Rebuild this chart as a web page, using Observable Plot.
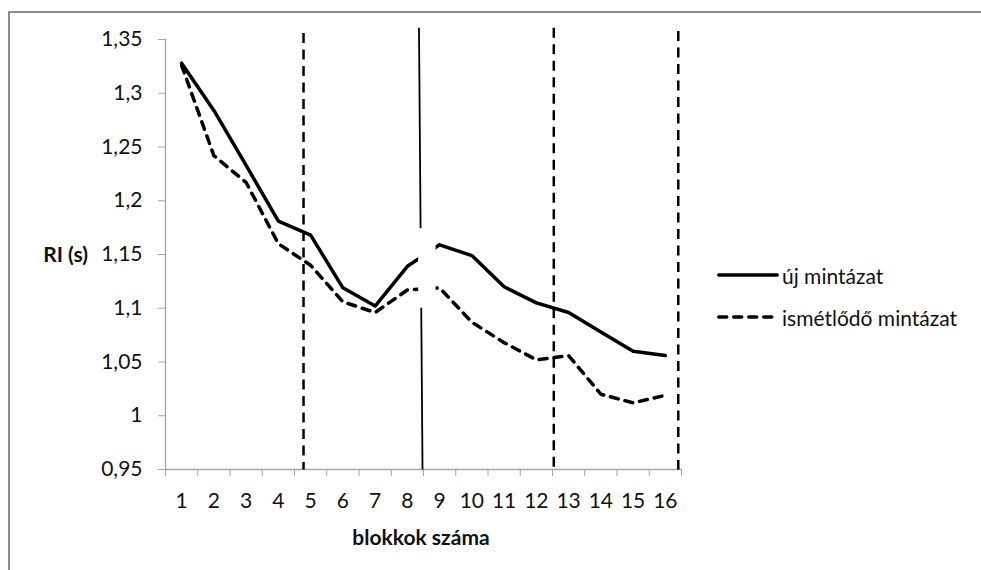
<!DOCTYPE html>
<html><head><meta charset="utf-8">
<script src="https://cdn.jsdelivr.net/npm/d3@7"></script>
<script src="https://cdn.jsdelivr.net/npm/@observablehq/plot@0.6"></script>
<style>
html,body{margin:0;padding:0;background:#fff;overflow:hidden;}
#wrap{position:relative;width:981px;height:570px;overflow:hidden;font-family:Lato,"Open Sans",sans-serif;color:#111;}
#frame{position:absolute;left:8px;top:11px;width:2000px;height:2000px;border-left:2px solid #8c8c8c;border-top:2px solid #8c8c8c;}
#chart{position:absolute;left:0;top:0;}
.ttl{position:absolute;font-weight:bold;font-size:21px;line-height:24px;white-space:nowrap;}
#ylab{right:893px;top:242px;}
#xlab{left:0;width:842px;text-align:center;top:525px;}
.leg{position:absolute;left:717px;height:24px;display:flex;align-items:center;font-size:21px;white-space:nowrap;}
.leg svg{margin-right:3px;}
</style></head><body>
<div id="wrap"><div id="frame"></div><div id="chart"></div>
<div class="ttl" id="ylab">RI (s)</div>
<div class="ttl" id="xlab">blokkok száma</div>
<div id="legend"></div>
</div>
<script>
// ---- data ----
const blocks = [1,2,3,4,5,6,7,8,9,10,11,12,13,14,15,16];
const ujMintazat = [1.328,1.284,1.233,1.181,1.168,1.119,1.102,1.139,1.159,1.149,1.120,1.105,1.096,1.078,1.060,1.056];
const ismetlodoMintazat = [1.326,1.242,1.217,1.160,1.140,1.106,1.096,1.117,1.119,1.087,1.068,1.052,1.056,1.020,1.012,1.019];
const seriesNames = ["új mintázat","ismétlődő mintázat"];
const yTicks = [0.95,1,1.05,1.1,1.15,1.2,1.25,1.3,1.35];
const xTickBounds = [0.5,1.5,2.5,3.5,4.5,5.5,6.5,7.5,8.5,9.5,10.5,11.5,12.5,13.5,14.5,15.5,16.5];
// phase boundary lines (in block units)
const phaseTopX = [4.78, 8.36, 12.54, 16.40];
const phaseBottomX = [4.78, 8.47, 12.54, 16.40];
const phaseTopY = [1.356, 1.361, 1.361, 1.358];
const phaseDashed = [true, false, true, true];
// blank patch over the 8-9 transition (as in original)
const gapBlock = [8.35, 8.89];
const gapValue = [1.100, 1.174];

// ---- build tables ----
const rowsUj = blocks.map((b,i)=>({block:b, value:ujMintazat[i], series:seriesNames[0]}));
const rowsIsm = blocks.map((b,i)=>({block:b, value:ismetlodoMintazat[i], series:seriesNames[1]}));
const phases = phaseTopX.map((x,i)=>({xt:x, xb:phaseBottomX[i], yt:phaseTopY[i], yb:yTicks[0], dashed:phaseDashed[i]}));
const fmt = d => String(+d.toFixed(2)).replace(".", ",");
const gray = "#a6a6a6";

const plot = Plot.plot({
  width: 981, height: 570,
  marginLeft: 165, marginRight: 300, marginTop: 39, marginBottom: 101,
  style: {fontFamily: "Lato, 'Open Sans', sans-serif", fontSize: "21px", color: "#111", background: "transparent", overflow: "visible"},
  x: {domain: [0.5, 16.5], axis: null},
  y: {domain: [0.95, 1.35], axis: null},
  marks: [
    Plot.ruleX([0.5], {stroke: gray, strokeWidth: 1.3}),
    Plot.ruleY([0.95], {stroke: gray, strokeWidth: 1.3}),
    Plot.axisY(yTicks, {tickSize: 7, tickFormat: () => "", color: gray}),
    Plot.axisX(xTickBounds, {tickSize: 7, tickFormat: () => "", color: gray}),
    Plot.axisY(yTicks, {tickSize: 0, tickPadding: 23, tickFormat: fmt, fontSize: 21, label: null}),
    Plot.axisX(blocks, {tickSize: 0, tickPadding: 24, tickFormat: d => String(d), fontSize: 21, label: null}),
    Plot.link(phases.filter(d=>d.dashed), {x1:"xt", x2:"xb", y1:"yt", y2:"yb", stroke:"#000", strokeWidth:2.5, strokeDasharray:"10,6.5"}),
    Plot.link(phases.filter(d=>!d.dashed), {x1:"xt", x2:"xb", y1:"yt", y2:"yb", stroke:"#000", strokeWidth:1.8}),
    Plot.line(rowsUj, {x:"block", y:"value", stroke:"#000", strokeWidth:3.5, strokeLinejoin:"round", strokeLinecap:"round"}),
    Plot.line(rowsIsm, {x:"block", y:"value", stroke:"#000", strokeWidth:3.5, strokeLinejoin:"round", strokeLinecap:"round", strokeDasharray:"8,7"}),
    Plot.rect([{}], {x1: gapBlock[0], x2: gapBlock[1], y1: gapValue[0], y2: gapValue[1], fill: "white"})
  ]
});
document.getElementById("chart").appendChild(plot);

// legend
const leg = document.getElementById("legend");
const legTops = [263, 305];
seriesNames.forEach((name,i)=>{
  const div = document.createElement("div");
  div.className = "leg";
  div.style.top = legTops[i] + "px";
  const dash = i === 1 ? 'stroke-dasharray="8,7"' : '';
  div.innerHTML = `<svg width="62" height="10"><line x1="1.75" y1="5" x2="60.25" y2="5" stroke="#000" stroke-width="3.5" stroke-linecap="round" ${dash}/></svg><span>${name}</span>`;
  leg.appendChild(div);
});
</script>
</body></html>
